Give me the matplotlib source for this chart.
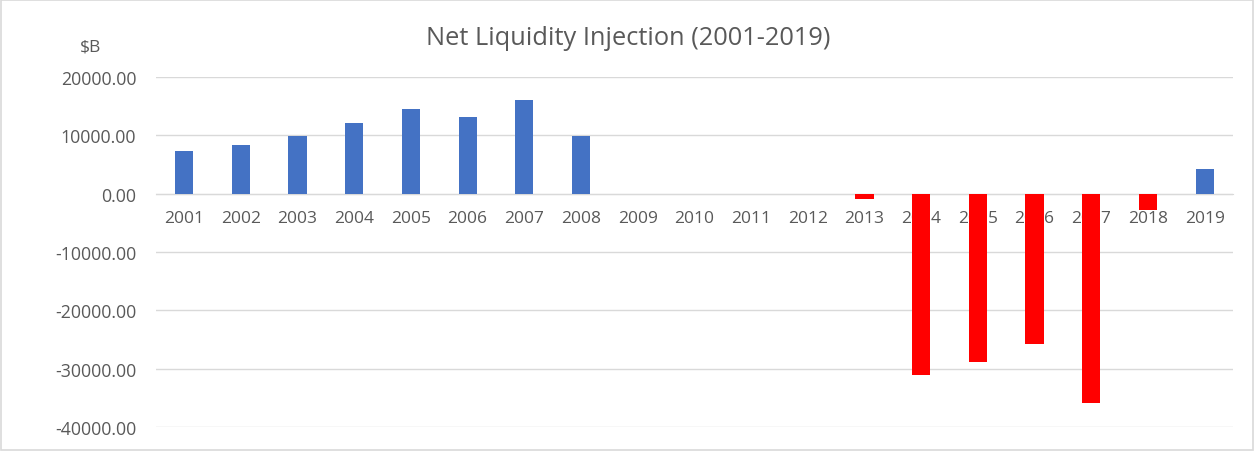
import matplotlib
matplotlib.use("Agg")
import matplotlib.pyplot as plt
from matplotlib.patches import Rectangle

years = [str(y) for y in range(2001, 2020)]
values = [7250, 8340, 9880, 12110, 14510, 13140, 16050, 9880,
          0, 0, 0, 0,
          -980, -31170, -28940, -25850, -35970, -2860, 4170]
pos_color = "#4472C4"
neg_color = "#FF0000"
yticks = [20000, 10000, 0, -10000, -20000, -30000, -40000]

plt.rcParams['font.family'] = ['Open Sans', 'DejaVu Sans']
text_color = "#595959"

fig = plt.figure(figsize=(12.56, 4.52), dpi=100)
ax = fig.add_axes([0.124, 0.0531, 0.8577, 0.7743])

colors = [pos_color if v >= 0 else neg_color for v in values]
x = list(range(len(years)))
ax.bar(x, values, width=0.32, color=colors, zorder=3)

ax.set_xlim(-0.5, len(years) - 0.5)
ax.set_ylim(-40000, 20000)
ax.set_yticks(yticks)
ax.set_yticklabels([f"{v:.2f}" for v in yticks])
ax.tick_params(axis='y', length=0, pad=14, labelsize=12.8, labelcolor=text_color)
ax.grid(axis='y', color="#d9d9d9", linewidth=1, zorder=0)

ax.set_xticks(x)
ax.set_xticklabels(years)
ax.spines['bottom'].set_position(('data', 0))
ax.spines['bottom'].set_color("#d9d9d9")
ax.tick_params(axis='x', length=0, pad=12, labelsize=12.5, labelcolor=text_color)
for s in ['top', 'left', 'right']:
    ax.spines[s].set_visible(False)

fig.text(0.5, 0.915, "Net Liquidity Injection (2001-2019)", ha='center', va='center',
         fontsize=18.3, color=text_color)
fig.text(0.072, 0.895, "$B", ha='center', va='center', fontsize=12.5, color=text_color)

fig.patches.append(Rectangle((0.001, 0.002), 0.997, 0.995, transform=fig.transFigure,
                             fill=False, edgecolor="#d9d9d9", linewidth=1.2))

fig.savefig("out.png", dpi=100, facecolor="white")
